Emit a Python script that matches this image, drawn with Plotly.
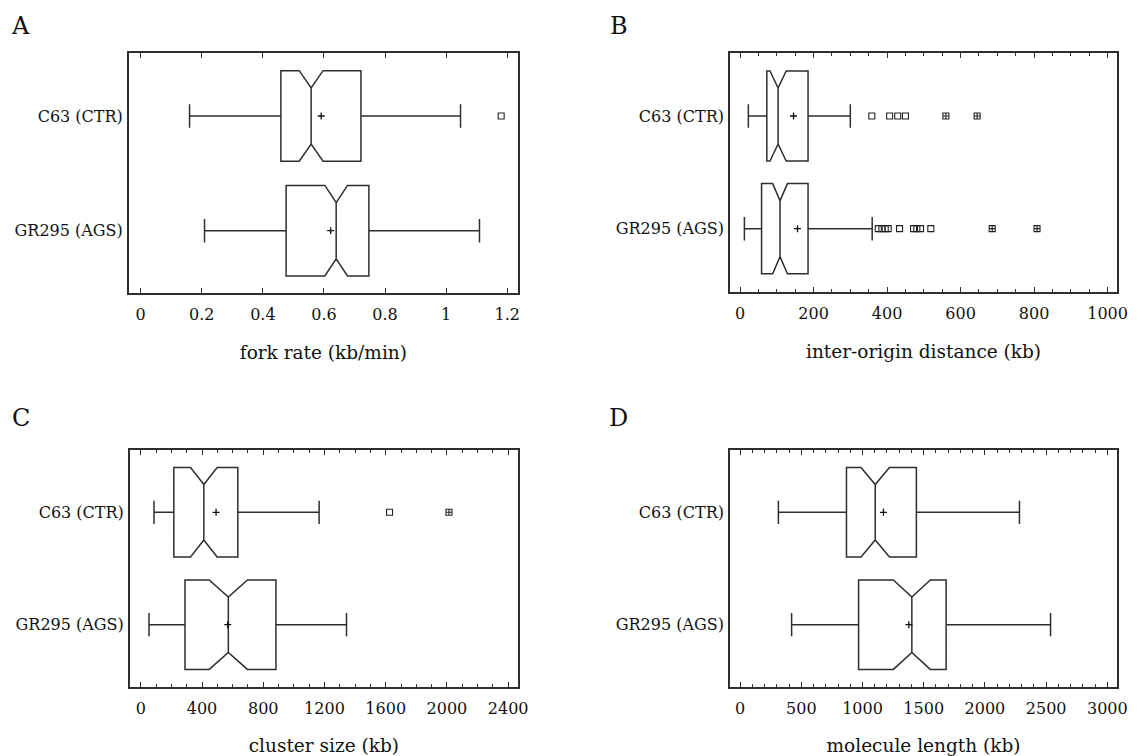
import plotly.graph_objects as go
from plotly.subplots import make_subplots

# ---------------- data ----------------
categories = ["GR295 (AGS)", "C63 (CTR)"]

# A: fork rate (kb/min)
fork_lower = [0.209, 0.160]
fork_q1 = [0.476, 0.459]
fork_med = [0.640, 0.558]
fork_q3 = [0.747, 0.721]
fork_upper = [1.109, 1.047]
fork_notch = [0.037, 0.039]
fork_mean = [0.622, 0.591]
fork_out_ctr = [1.18]
fork_out_ags = []
fork_far_ctr = []
fork_far_ags = []

# B: inter-origin distance (kb)
iod_lower = [11.8, 22.6]
iod_q1 = [58.5, 72.8]
iod_med = [108.8, 103.5]
iod_q3 = [185, 185]
iod_upper = [359.5, 300]
iod_notch = [20, 22]
iod_mean = [156.3, 145.5]
iod_out_ctr = [358.5, 407, 429, 450]
iod_out_ags = [376, 386, 395, 403, 434, 472, 481, 491, 519]
iod_far_ctr = [560, 645]
iod_far_ags = [686, 808]

# C: cluster size (kb)
cl_lower = [54, 86.5]
cl_q1 = [289, 216]
cl_med = [572, 412]
cl_q3 = [883, 634]
cl_upper = [1344, 1165]
cl_notch = [125, 87]
cl_mean = [568, 492]
cl_out_ctr = [1625]
cl_out_ags = []
cl_far_ctr = [2013]
cl_far_ags = []

# D: molecule length (kb)
ml_lower = [421, 313]
ml_q1 = [968, 869]
ml_med = [1403, 1104]
ml_q3 = [1683, 1440]
ml_upper = [2536, 2282]
ml_notch = [151, 116]
ml_mean = [1379, 1171]
ml_out_ctr = []
ml_out_ags = []
ml_far_ctr = []
ml_far_ags = []

panels = [
    dict(row=1, col=1, letter="A", title="fork rate (kb/min)",
         lower=fork_lower, q1=fork_q1, med=fork_med, q3=fork_q3, upper=fork_upper,
         notch=fork_notch, mean=fork_mean,
         out_ctr=fork_out_ctr, out_ags=fork_out_ags, far_ctr=fork_far_ctr, far_ags=fork_far_ags,
         xrange=[-0.039, 1.235], dtick=0.2, minor=None),
    dict(row=1, col=2, letter="B", title="inter-origin distance (kb)",
         lower=iod_lower, q1=iod_q1, med=iod_med, q3=iod_q3, upper=iod_upper,
         notch=iod_notch, mean=iod_mean,
         out_ctr=iod_out_ctr, out_ags=iod_out_ags, far_ctr=iod_far_ctr, far_ags=iod_far_ags,
         xrange=[-27.6, 1026], dtick=200, minor=50),
    dict(row=2, col=1, letter="C", title="cluster size (kb)",
         lower=cl_lower, q1=cl_q1, med=cl_med, q3=cl_q3, upper=cl_upper,
         notch=cl_notch, mean=cl_mean,
         out_ctr=cl_out_ctr, out_ags=cl_out_ags, far_ctr=cl_far_ctr, far_ags=cl_far_ags,
         xrange=[-72, 2464], dtick=400, minor=100),
    dict(row=2, col=2, letter="D", title="molecule length (kb)",
         lower=ml_lower, q1=ml_q1, med=ml_med, q3=ml_q3, upper=ml_upper,
         notch=ml_notch, mean=ml_mean,
         out_ctr=ml_out_ctr, out_ags=ml_out_ags, far_ctr=ml_far_ctr, far_ags=ml_far_ags,
         xrange=[-83, 3080], dtick=500, minor=100),
]

# ---------------- layout geometry (pixels) ----------------
W, H = 1144, 756
FONT = "DejaVu Serif"
LINE = "#2e2e2e"
domains = {
    (1, 1): ((130, 523), (53, 293), [-0.543, 1.549], 0.79),
    (1, 2): ((737, 1128), (53, 292), [-0.562, 1.559], 0.80),
    (2, 1): ((131, 523), (450, 687), [-0.554, 1.554], 0.795),
    (2, 2): ((737, 1128), (450, 687), [-0.554, 1.554], 0.795),
}

fig = make_subplots(rows=2, cols=2)

for p in panels:
    r, c = p["row"], p["col"]
    (x0, x1), (y0, y1), yr, bw = domains[(r, c)]
    fig.add_trace(go.Box(
        orientation="h",
        y=categories,
        q1=p["q1"], median=p["med"], q3=p["q3"],
        lowerfence=p["lower"], upperfence=p["upper"],
        notchspan=p["notch"], notched=True, notchwidth=0.19,
        whiskerwidth=0.26, width=bw,
        boxpoints=False,
        fillcolor="rgba(255,255,255,0)",
        line=dict(color=LINE, width=1.5),
        showlegend=False, hoverinfo="skip",
    ), row=r, col=c)
    fig.add_trace(go.Scatter(
        x=p["mean"], y=categories, mode="markers",
        marker=dict(symbol="cross-thin", size=5, line=dict(color="#111", width=1.3)),
        showlegend=False, hoverinfo="skip",
    ), row=r, col=c)
    ox = p["out_ctr"] + p["out_ags"]
    oy = [categories[1]] * len(p["out_ctr"]) + [categories[0]] * len(p["out_ags"])
    if ox:
        fig.add_trace(go.Scatter(
            x=ox, y=oy, mode="markers",
            marker=dict(symbol="square-open", size=6, color="#222", line=dict(width=1.1)),
            showlegend=False, hoverinfo="skip",
        ), row=r, col=c)
    fx = p["far_ctr"] + p["far_ags"]
    fy = [categories[1]] * len(p["far_ctr"]) + [categories[0]] * len(p["far_ags"])
    if fx:
        fig.add_trace(go.Scatter(
            x=fx, y=fy, mode="markers",
            marker=dict(symbol="square-cross-open", size=6, color="#222", line=dict(width=1.1)),
            showlegend=False, hoverinfo="skip",
        ), row=r, col=c)

    xaxis_kw = dict(
        domain=[x0 / W, x1 / W], range=p["xrange"], dtick=p["dtick"], tick0=0,
        ticks="inside", ticklen=5, tickwidth=1.2, tickcolor=LINE,
        showline=True, linecolor=LINE, linewidth=1.5, mirror="ticks",
        showgrid=False, zeroline=False,
        tickfont=dict(family=FONT, size=16, color="#111"),
        ticklabelstandoff=6,
        title=dict(text=p["title"], font=dict(family=FONT, size=18.5, color="#111"), standoff=23),
    )
    if p["minor"]:
        xaxis_kw["minor"] = dict(dtick=p["minor"], tick0=0, ticks="inside", ticklen=3,
                                 tickwidth=1, tickcolor=LINE, showgrid=False)
    fig.update_xaxes(row=r, col=c, **xaxis_kw)
    fig.update_yaxes(
        row=r, col=c,
        domain=[1 - y1 / H, 1 - y0 / H], range=yr,
        type="category", categoryorder="array", categoryarray=categories,
        ticks="", showline=True, linecolor=LINE, linewidth=1.5, mirror=True,
        showgrid=False, zeroline=False,
        tickfont=dict(family=FONT, size=16, color="#111"),
        ticklabelstandoff=1,
    )

letters = [("A", 21, 26), ("B", 625, 26), ("C", 21, 418), ("D", 625, 418)]
for t, lx, ly in letters:
    fig.add_annotation(x=lx / W, y=1 - ly / H, xref="paper", yref="paper",
                       text=t, showarrow=False, xanchor="center", yanchor="middle",
                       font=dict(family=FONT, size=24, color="#111"))

fig.update_layout(
    width=W, height=H,
    margin=dict(l=0, r=0, t=0, b=0),
    paper_bgcolor="white", plot_bgcolor="white",
    font=dict(family=FONT),
)

fig.write_html("out.html")
